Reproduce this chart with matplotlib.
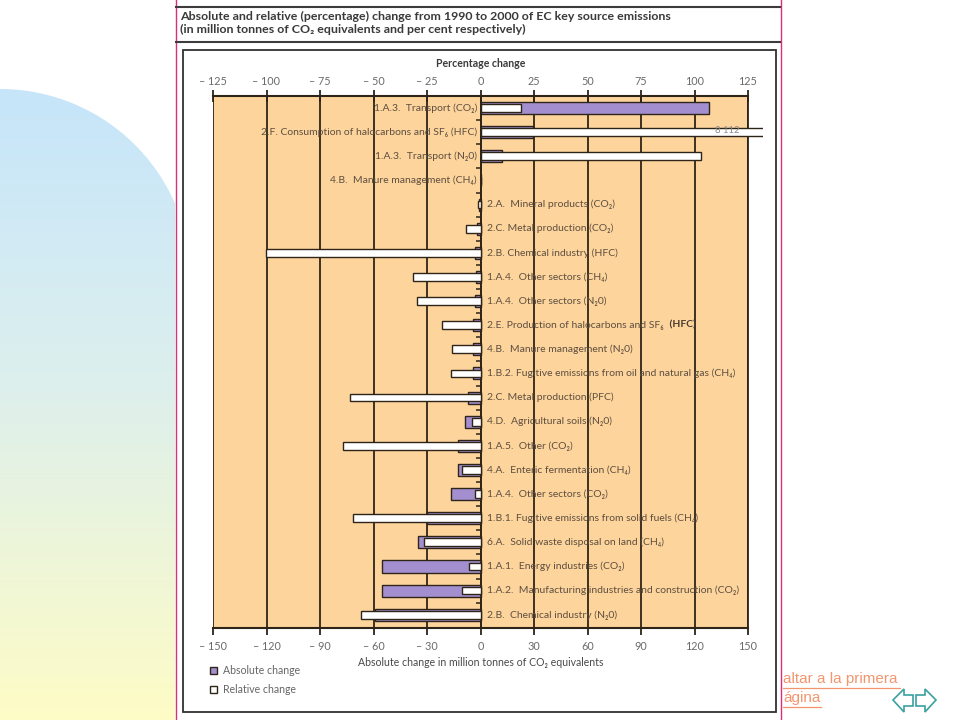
import matplotlib
matplotlib.use("Agg")
import matplotlib.pyplot as plt
import numpy as np
from matplotlib.patches import Rectangle, Polygon, Patch
from matplotlib.lines import Line2D
from matplotlib.transforms import Bbox, TransformedBbox
from matplotlib.colors import LinearSegmentedColormap
from matplotlib.ticker import FixedLocator, FuncFormatter

plt.rcParams['font.family'] = ['Lato', 'DejaVu Sans']

# ---------------- data ----------------
categories = [
    "1.A.3.  Transport (CO₂)",
    "2.F. Consumption of halocarbons and SF₆ (HFC)",
    "1.A.3.  Transport (N₂0)",
    "4.B.  Manure management (CH₄)",
    "2.A.  Mineral products (CO₂)",
    "2.C. Metal production (CO₂)",
    "2.B. Chemical industry (HFC)",
    "1.A.4.  Other sectors (CH₄)",
    "1.A.4.  Other sectors (N₂0)",
    "2.E. Production of halocarbons and SF₆ ",
    "4.B.  Manure management (N₂0)",
    "1.B.2. Fugitive emissions from oil and natural gas (CH₄)",
    "2.C. Metal production (PFC)",
    "4.D.  Agricultural soils (N₂0)",
    "1.A.5.  Other (CO₂)",
    "4.A.  Enteric fermentation (CH₄)",
    "1.A.4.  Other sectors (CO₂)",
    "1.B.1. Fugitive emissions from solid fuels (CH₄)",
    "6.A.  Solid waste disposal on land (CH₄)",
    "1.A.1.  Energy industries (CO₂)",
    "1.A.2.  Manufacturing industries and construction (CO₂)",
    "2.B.  Chemical industry (N₂0)",
]
bold_suffix = {9: "(HFC)"}
absolute_mt = [128.2, 29.4, 12.0, 0.0, -0.8, -2.1, -3.0, -2.5, -3.0, -4.0, -4.4,
               -4.4, -7.2, -8.5, -12.8, -12.8, -16.7, -30.2, -34.9, -55.1, -55.1, -59.2]
relative_pct = [18.8, 8112, 103.0, 0.0, -1.2, -6.6, -100.4, -31.4, -29.8, -17.8, -13.5,
                -13.9, -61.1, -4.1, -64.1, -8.6, -2.6, -59.4, -26.4, -5.2, -8.8, -56.0]
abs_ticks = [-150, -120, -90, -60, -30, 0, 30, 60, 90, 120, 150]
pct_ticks = [-125, -100, -75, -50, -25, 0, 25, 50, 75, 100, 125]

title_lines = ["Absolute and relative (percentage) change from 1990 to 2000 of EC key source emissions",
               "(in million tonnes of CO₂ equivalents and per cent respectively)"]

# ---------------- styling ----------------
W, H = 960, 720
ORANGE = '#fdd49c'
PURPLE = '#a38fd0'
DARK = '#2e2418'
LABEL_C = '#5e4f40'
TICK_C = '#6a6a6a'
LAB_FS = 7.5

fig = plt.figure(figsize=(9.6, 7.2), dpi=100)
fig.patch.set_facecolor('white')


def fx(x):
    return x / W


def fy(y):
    return 1 - y / H


# left background shape with gradient
bg = fig.add_axes([0, 0, 175 / W, 1], zorder=-5)
bg.set_xlim(0, 175)
bg.set_ylim(720, 0)
bg.axis('off')
cmap = LinearSegmentedColormap.from_list('bg', [(0, '#c6e5fa'), (0.45, '#dcefee'), (1, '#fefcc6')])
grad = np.linspace(0, 1, 256).reshape(-1, 1)
im = bg.imshow(grad, cmap=cmap, extent=[0, 175, 720, 89], aspect='auto')
th = np.linspace(0, np.arcsin(175 / 191), 60)
pts = [(191 * np.sin(t), 280 - 191 * np.cos(t)) for t in th] + [(175, 720), (0, 720)]
poly = Polygon(pts, closed=True, transform=bg.transData, fc='none', ec='none')
bg.add_patch(poly)
im.set_clip_path(poly)

# pink vertical lines
for xv in (175.5, 780.5):
    fig.add_artist(Line2D([fx(xv), fx(xv)], [0, 1], color='#d8307a', lw=1.0, transform=fig.transFigure))

# title rules and text
for yv in (7, 42):
    fig.add_artist(Line2D([fx(176), fx(780)], [fy(yv), fy(yv)], color='#3c3c3c', lw=1.5, transform=fig.transFigure))
fig.text(fx(180), fy(16), title_lines[0], fontsize=8.9, fontweight='bold', color='#3a3a3a', va='center', ha='left')
fig.text(fx(180), fy(29.5), title_lines[1], fontsize=8.9, fontweight='bold', color='#3a3a3a', va='center', ha='left')

# frame box
fig.add_artist(Rectangle((fx(183), fy(712)), fx(776) - fx(183), fy(50) - fy(712), fill=False,
                         ec='#303030', lw=1.3, transform=fig.transFigure))

# ---------------- main axes ----------------
ax = fig.add_axes([fx(213), fy(628), fx(748) - fx(213), fy(96) - fy(628)])
ax.set_facecolor(ORANGE)
n = len(categories)
ypos = np.arange(n)
ax.set_xlim(-150, 150)
ax.set_ylim(n - 0.45, -0.5)

for t in abs_ticks:
    ax.axvline(t, color=DARK, lw=1.3, zorder=0.5)

ax.barh(ypos, absolute_mt, height=0.5, color=PURPLE, edgecolor=DARK, linewidth=1.0, zorder=2)

ax.spines['left'].set_position(('data', 0))
ax.spines['left'].set_color(DARK)
ax.spines['left'].set_linewidth(1.2)
ax.spines['top'].set_visible(False)
ax.spines['right'].set_color(DARK)
ax.spines['right'].set_linewidth(1.3)
ax.spines['bottom'].set_color(DARK)
ax.spines['bottom'].set_linewidth(1.5)
ax.set_yticks([])
ax.yaxis.set_minor_locator(FixedLocator(np.arange(0.5, n - 0.5, 1)))
ax.tick_params(axis='y', which='minor', length=3.5, width=1.1, color=DARK, direction='out')

ax.xaxis.set_major_locator(FixedLocator(abs_ticks))
ax.xaxis.set_major_formatter(FuncFormatter(lambda v, p: f"– {abs(int(v))}" if v < 0 else f"{int(v)}"))
ax.tick_params(axis='x', direction='out', length=5, width=1.3, color=DARK, labelsize=7.8,
               labelcolor=TICK_C, pad=4)
ax.set_xlabel("Absolute change in million tonnes of CO₂ equivalents", fontsize=7.6, color='#4a4a4a', labelpad=4)

# ---------------- relative (percentage) axes ----------------
ax2 = ax.twiny()
ax2.set_xlim(-125, 125)
for s in ('left', 'right', 'bottom'):
    ax2.spines[s].set_visible(False)
ax2.spines['top'].set_color(DARK)
ax2.spines['top'].set_linewidth(1.5)
rel_bars = ax2.barh(ypos, relative_pct, height=0.32, color='white', edgecolor=DARK, linewidth=1.0, zorder=3)
clipbox = TransformedBbox(Bbox([[-0.01, 0], [550 / 535, 1]]), ax2.transAxes)
for v, b in zip(relative_pct, rel_bars):
    if v > pct_ticks[-1]:
        b.set_clip_path(None)
        b.set_clip_box(clipbox)
for i, v in enumerate(relative_pct):
    if v > pct_ticks[-1]:
        ax2.text(115.5, i - 0.05, f"{v:,}".replace(",", " "), fontsize=6.8, color='#8a8a8a',
                 ha='center', va='center', clip_on=False, zorder=6)
ax2.xaxis.set_major_locator(FixedLocator(pct_ticks))
ax2.xaxis.set_major_formatter(FuncFormatter(lambda v, p: f"– {abs(int(v))}" if v < 0 else f"{int(v)}"))
ax2.tick_params(axis='x', direction='inout', length=9, width=1.3, color=DARK, labelsize=7.8,
                labelcolor=TICK_C, pad=2.2)
ax2.set_xlabel("Percentage change", fontsize=7.6, color='#3a3a3a', fontweight='bold', labelpad=6)

# ---------------- category labels ----------------
for i, (lab, a, r) in enumerate(zip(categories, absolute_mt, relative_pct)):
    if a >= 0 and r >= 0:
        t = ax.text(-2.0, i, lab, ha='right', va='center', fontsize=LAB_FS, color=LABEL_C, zorder=5)
    else:
        t = ax.text(3.8, i, lab, ha='left', va='center', fontsize=LAB_FS, color=LABEL_C, zorder=5)
    if i in bold_suffix:
        ax.annotate(" " + bold_suffix[i], xy=(1, 0.5), xycoords=t, ha='left', va='center',
                    fontsize=LAB_FS, fontweight='bold', color='#4a3d30', zorder=5)

# ---------------- legend ----------------
handles = [Patch(facecolor=PURPLE, edgecolor=DARK, lw=1.0), Patch(facecolor='white', edgecolor=DARK, lw=1.0)]
fig.legend(handles, ["Absolute change", "Relative change"], loc='upper left',
           bbox_to_anchor=(fx(210), fy(665)), frameon=False, fontsize=7.6, handlelength=0.7,
           handleheight=0.7, handletextpad=0.5, labelspacing=0.75, labelcolor='#666666',
           borderaxespad=0, borderpad=0)

# ---------------- slide navigation ----------------
link_c = '#f3956e'
fig.text(fx(783), fy(679), "altar a la primera", fontsize=11, color=link_c, va='center', ha='left',
         family=['Liberation Sans', 'DejaVu Sans'])
fig.text(fx(783), fy(698), "ágina", fontsize=11, color=link_c, va='center', ha='left',
         family=['Liberation Sans', 'DejaVu Sans'])
fig.add_artist(Line2D([fx(783), fx(900)], [fy(688), fy(688)], color=link_c, lw=0.9, transform=fig.transFigure))
fig.add_artist(Line2D([fx(783), fx(821)], [fy(707), fy(707)], color=link_c, lw=0.9, transform=fig.transFigure))

left_arrow = [(893, 700), (904, 689), (904, 695), (913, 695), (913, 706), (904, 706), (904, 712)]
right_arrow = [(936, 700), (925, 689), (925, 695), (916, 695), (916, 706), (925, 706), (925, 712)]
for arr in (left_arrow, right_arrow):
    fig.add_artist(Polygon([(fx(x), fy(y)) for x, y in arr], closed=True, fill=False,
                           ec='#3aa0a0', lw=1.2, transform=fig.transFigure))

fig.savefig("out.png", dpi=100)
